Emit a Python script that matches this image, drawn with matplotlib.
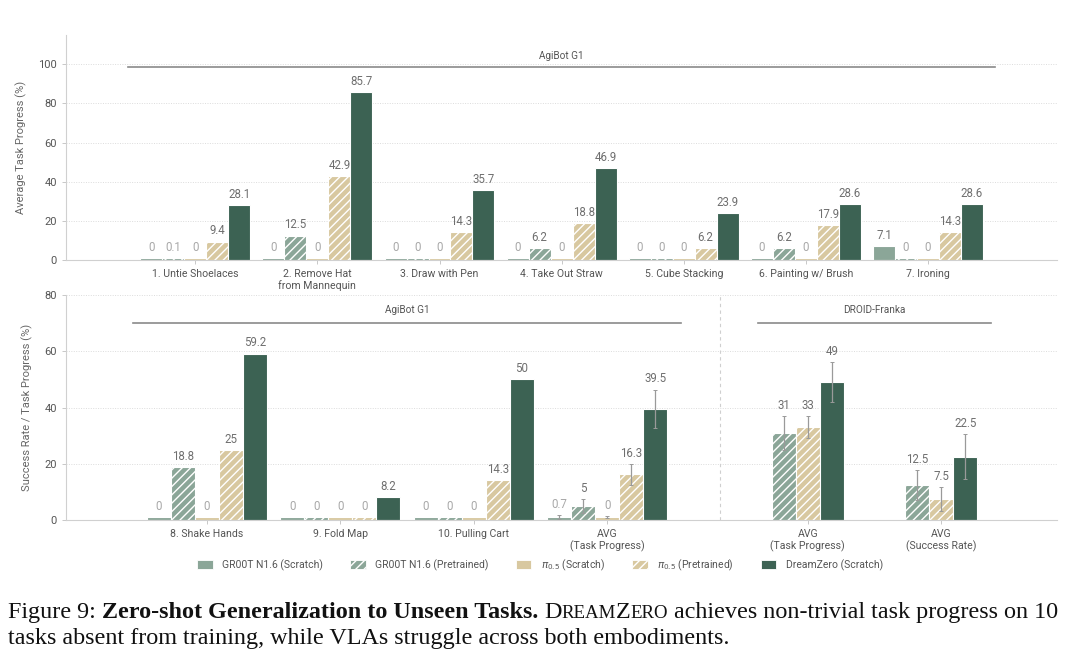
import numpy as np
import matplotlib
matplotlib.use('Agg')
import matplotlib.pyplot as plt
from matplotlib.patches import Patch

plt.rcParams['font.family'] = ['Roboto', 'DejaVu Sans']

# ---- data ----
methods = ['GR00T N1.6 (Scratch)', 'GR00T N1.6 (Pretrained)', r'$\pi_{0.5}$ (Scratch)',
           r'$\pi_{0.5}$ (Pretrained)', 'DreamZero (Scratch)']

top_tasks = ['1. Untie Shoelaces', '2. Remove Hat\nfrom Mannequin', '3. Draw with Pen',
             '4. Take Out Straw', '5. Cube Stacking', '6. Painting w/ Brush', '7. Ironing']
top_groot_scratch = [0, 0, 0, 0, 0, 0, 7.1]
top_groot_pre = [0.1, 12.5, 0, 6.2, 0, 6.2, 0]
top_pi_scratch = [0, 0, 0, 0, 0, 0, 0]
top_pi_pre = [9.4, 42.9, 14.3, 18.8, 6.2, 17.9, 14.3]
top_dz = [28.1, 85.7, 35.7, 46.9, 23.9, 28.6, 28.6]

agi_tasks = ['8. Shake Hands', '9. Fold Map', '10. Pulling Cart', 'AVG\n(Task Progress)']
agi_groot_scratch = [0, 0, 0, 0.7]
agi_groot_pre = [18.8, 0, 0, 5]
agi_pi_scratch = [0, 0, 0, 0]
agi_pi_pre = [25, 0, 14.3, 16.3]
agi_dz = [59.2, 8.2, 50, 39.5]
# error bars only on the AVG group (order: the five methods)
agi_avg_err = [0.7, 2.6, 0.3, 3.7, 6.9]

droid_tasks = ['AVG\n(Task Progress)', 'AVG\n(Success Rate)']
droid_groot_pre = [31, 12.5]
droid_pi_pre = [33, 7.5]
droid_dz = [49, 22.5]
droid_groot_pre_err = [6.0, 5.2]
droid_pi_pre_err = [4.0, 4.1]
droid_dz_err = [7.1, 8.0]

# ---- style ----
C_GROOT = '#8BA698'
C_PI = '#D8C8A0'
C_DZ = '#3C6253'
styles = [(C_GROOT, None), (C_GROOT, '////'), (C_PI, None), (C_PI, '////'), (C_DZ, None)]
W = 0.18
LBL = '#6f6f6f'
LBL_LIGHT = '#a8a8a8'
GRID = '#dcdcdc'

fig = plt.figure(figsize=(10.8, 6.6), dpi=100)
ax1 = fig.add_axes([0.061, 0.606, 0.918, 0.341])
ax2 = fig.add_axes([0.061, 0.212, 0.918, 0.341])


def style_axis(ax):
    for s in ['top', 'right']:
        ax.spines[s].set_visible(False)
    for s in ['left', 'bottom']:
        ax.spines[s].set_color('#d0d0d0')
        ax.spines[s].set_linewidth(0.8)
    ax.yaxis.grid(True, linestyle=(0, (1, 1.5)), color=GRID, linewidth=0.7)
    ax.set_axisbelow(True)
    ax.tick_params(axis='both', colors='#c8c8c8', labelcolor='#555555', labelsize=8,
                   length=3, width=0.7)
    ax.tick_params(axis='x', labelsize=7.6)


def draw_bar(ax, x, v, color, hatch, err=None):
    h = max(v, 1.0)
    ax.bar(x, h, W, color=color, hatch=hatch, edgecolor='white', linewidth=0.8, zorder=2)
    top = h
    if err:
        ax.errorbar(x, v if v >= 1 else h, yerr=err, fmt='none', ecolor='#9a9a9a',
                    elinewidth=0.9, capsize=1.5, capthick=0.7, zorder=3)
        top = max(v, h) + err
    txt = f'{v:g}'
    ax.annotate(txt, (x, top), xytext=(0, 3), textcoords='offset points',
                ha='center', va='bottom', fontsize=8.3,
                color=LBL if v >= 1 else LBL_LIGHT)


def group_header(ax, x0, x1, y_line, y_text, name):
    ax.plot([x0, x1], [y_line, y_line], color='#8a8a8a', lw=1.2, clip_on=False, zorder=1)
    ax.text((x0 + x1) / 2, y_text, name, ha='center', va='center', fontsize=7.2,
            color='#555555')


# ---- top panel ----
style_axis(ax1)
top_series = [top_groot_scratch, top_groot_pre, top_pi_scratch, top_pi_pre, top_dz]
xt = np.arange(len(top_tasks))
for k, (vals, (c, h)) in enumerate(zip(top_series, styles)):
    for i, v in enumerate(vals):
        draw_bar(ax1, xt[i] + (k - 2) * W, v, c, h)
ax1.set_xlim(-1.06, len(top_tasks) + 0.06)
ax1.set_ylim(0, 115)
ax1.set_yticks([0, 20, 40, 60, 80, 100])
ax1.set_xticks(xt)
ax1.set_xticklabels(top_tasks, linespacing=1.1)
ax1.set_ylabel('Average Task Progress (%)', fontsize=8, color='#666666', labelpad=8)
group_header(ax1, xt[0] - 0.55, xt[-1] + 0.55, 98.5, 104.5, 'AgiBot G1')

# ---- bottom panel ----
style_axis(ax2)
agi_series = [agi_groot_scratch, agi_groot_pre, agi_pi_scratch, agi_pi_pre, agi_dz]
xa = np.arange(len(agi_tasks))
for k, (vals, (c, h)) in enumerate(zip(agi_series, styles)):
    for i, v in enumerate(vals):
        err = agi_avg_err[k] if i == len(agi_tasks) - 1 else None
        draw_bar(ax2, xa[i] + (k - 2) * W, v, c, h, err)

xd = np.arange(len(droid_tasks)) + len(agi_tasks) + 0.5
droid_series = [(droid_groot_pre, droid_groot_pre_err, styles[1]),
                (droid_pi_pre, droid_pi_pre_err, styles[3]),
                (droid_dz, droid_dz_err, styles[4])]
for k, (vals, errs, (c, h)) in enumerate(droid_series):
    for i, v in enumerate(vals):
        draw_bar(ax2, xd[i] + (k - 1) * W, v, c, h, errs[i])

sep = ((xa[-1] + 2.5 * W) + (xd[0] - 1.5 * W)) / 2
ax2.axvline(sep, color='#cfcfcf', lw=0.8, linestyle=(0, (3, 3)), zorder=1)
ax2.set_xlim(-1.056, 6.37)
ax2.set_ylim(0, 80)
ax2.set_yticks([0, 20, 40, 60, 80])
ax2.set_xticks(list(xa) + list(xd))
ax2.set_xticklabels(agi_tasks + droid_tasks, linespacing=1.1)
ax2.set_ylabel('Success Rate / Task Progress (%)', fontsize=8, color='#666666', labelpad=8)
group_header(ax2, xa[0] - 0.55, xa[-1] + 0.55, 70, 74.7, 'AgiBot G1')
group_header(ax2, xd[0] - 0.37, xd[-1] + 0.37, 70, 74.7, 'DROID-Franka')

# ---- legend ----
handles = [Patch(facecolor=c, hatch=h, edgecolor='white', linewidth=0.6) for c, h in styles]
fig.legend(handles, methods, loc='center', bbox_to_anchor=(0.5, 0.144), ncol=5,
           frameon=False, fontsize=7.5, handlelength=1.5, handleheight=0.9,
           columnspacing=2.6, handletextpad=0.9, labelcolor='#555555')

# ---- caption with small caps ----
renderer = fig.canvas.get_renderer()
SERIF = 'Liberation Serif'


def run_width(runs, fs):
    total = 0
    for s, kind, space in runs:
        size = fs * (0.78 if kind == 'sc' else 1.0)
        t = fig.text(0, 0, s, fontsize=size, family=SERIF,
                     fontweight='bold' if kind == 'b' else 'normal')
        total += t.get_window_extent(renderer).width
        t.remove()
        if space:
            total += space_w(fs)
    return total


def space_w(fs):
    a = fig.text(0, 0, 'x x', fontsize=fs, family=SERIF)
    b = fig.text(0, 0, 'xx', fontsize=fs, family=SERIF)
    w = a.get_window_extent(renderer).width - b.get_window_extent(renderer).width
    a.remove(); b.remove()
    return w


def draw_runs(runs, x_px, y_frac, fs):
    x = x_px
    for s, kind, space in runs:
        size = fs * (0.78 if kind == 'sc' else 1.0)
        t = fig.text(x / fig.bbox.width, y_frac, s, fontsize=size, family=SERIF,
                     fontweight='bold' if kind == 'b' else 'normal', color='#111111',
                     va='baseline')
        x += t.get_window_extent(renderer).width
        if space:
            x += space_w(fs)


line1 = [('Figure 9:', 'r', True),
         ('Zero-shot Generalization to Unseen Tasks.', 'b', True),
         ('D', 'r', False), ('REAM', 'sc', False), ('Z', 'r', False), ('ERO', 'sc', True),
         ('achieves non-trivial task progress on 10', 'r', False)]
line2 = [('tasks absent from training, while VLAs struggle across both embodiments.', 'r', False)]

fs0 = 15
fs = fs0 * 1054 / run_width(line1, fs0)
draw_runs(line1, 8, 1 - 618 / 660, fs)
draw_runs(line2, 8, 1 - 644 / 660, fs)

fig.savefig('out.png', dpi=100)
